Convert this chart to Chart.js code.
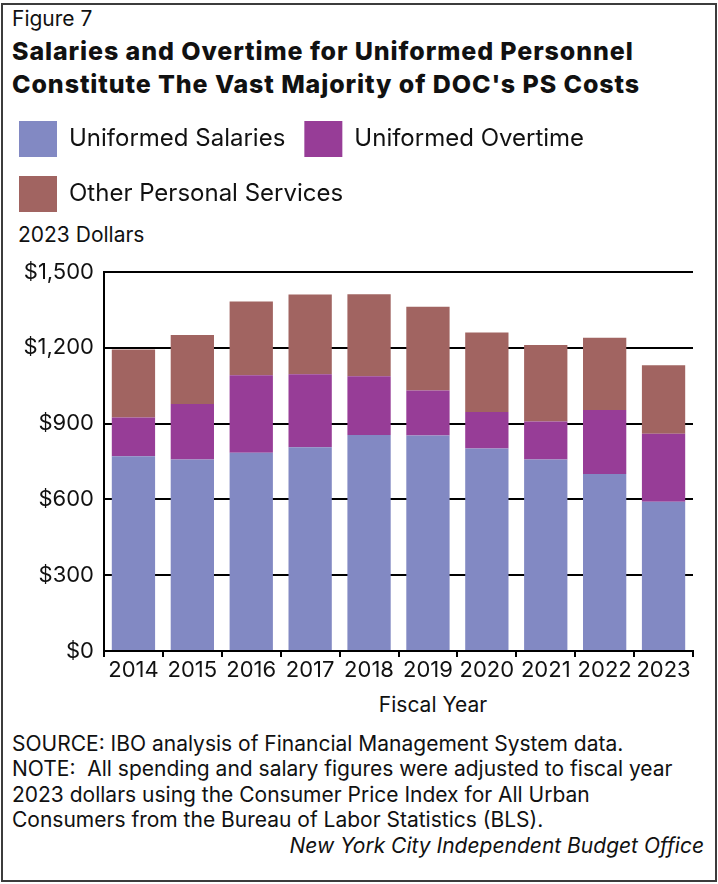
<!DOCTYPE html>
<html>
<head>
<meta charset="utf-8">
<script src="https://cdn.jsdelivr.net/npm/chart.js@4.4.1/dist/chart.umd.min.js"></script>
<style>
  html, body { margin: 0; padding: 0; background: #fff; }
  body { width: 718px; height: 884px; position: relative; overflow: hidden; font-family: Inter, "Noto Sans", sans-serif; color: #111; }
  .frame { position: absolute; left: 1px; top: 3px; width: 712px; height: 875px; border: 2px solid #3c3c3c; }
  .fig { position: absolute; left: 12px; top: 6px; font-size: 21px; line-height: 26px; }
  .title { position: absolute; left: 12px; top: 35px; font-size: 25px; font-weight: 800; line-height: 33px; letter-spacing: 0.9px; }
  .unit { position: absolute; left: 18px; top: 222px; font-size: 21px; line-height: 26px; }
  .xtitle { position: absolute; left: 333px; width: 200px; text-align: center; top: 692px; font-size: 21px; line-height: 26px; }
  .wrap { position: absolute; left: 0; top: 102px; width: 718px; height: 586px; }
  .notes { position: absolute; left: 12px; top: 731px; width: 692px; font-size: 21px; line-height: 25.4px; white-space: pre; }
  .notes .src { text-align: right; font-style: italic; }
</style>
</head>
<body>
<div class="frame"></div>
<div class="fig">Figure 7</div>
<div class="title">Salaries and Overtime for Uniformed Personnel<br>Constitute The Vast Majority of DOC's PS Costs</div>
<div class="unit">2023 Dollars</div>
<div class="wrap"><canvas id="chart"></canvas></div>
<div class="xtitle">Fiscal Year</div>
<div class="notes">SOURCE: IBO analysis of Financial Management System data.
NOTE:  All spending and salary figures were adjusted to fiscal year
2023 dollars using the Consumer Price Index for All Urban
Consumers from the Bureau of Labor Statistics (BLS).
<div class="src">New York City Independent Budget Office</div></div>

<script>
// Fiscal years shown on the x axis
const years = ['2014', '2015', '2016', '2017', '2018', '2019', '2020', '2021', '2022', '2023'];

// Personal services spending, millions of 2023 dollars
const uniformedSalaries = [771, 758, 785, 806, 855, 853, 801, 758, 701, 591];
const uniformedOvertime = [153, 220, 306, 289, 232, 178, 145, 150, 253, 269];
const otherPersonalServices = [269, 273, 292, 316, 325, 331, 315, 303, 286, 271];

// Y axis ticks
const yTicks = [0, 300, 600, 900, 1200, 1500];

const seriesNames = ['Uniformed Salaries', 'Uniformed Overtime', 'Other Personal Services'];
const seriesColors = ['#8289c3', '#973d97', '#a16461'];

const ink = '#111111';
const font = 'Inter, "Noto Sans", sans-serif';

new Chart(document.getElementById('chart'), {
  type: 'bar',
  data: {
    labels: years,
    datasets: [uniformedSalaries, uniformedOvertime, otherPersonalServices].map((values, i) => ({
      label: seriesNames[i],
      data: values,
      backgroundColor: seriesColors[i],
      borderWidth: 0,
      barPercentage: 0.735,
      categoryPercentage: 1.0
    }))
  },
  options: {
    responsive: true,
    maintainAspectRatio: false,
    animation: false,
    layout: { padding: { left: 0, right: 25, top: 0, bottom: 0 } },
    plugins: {
      legend: {
        position: 'top',
        align: 'start',
        labels: {
          boxWidth: 38,
          boxHeight: 36,
          padding: 19,
          color: ink,
          font: { family: font, size: 24 }
        }
      },
      subtitle: {
        // blank band between the legend and the plot
        display: true,
        text: '',
        weight: 500,
        font: { size: 10, lineHeight: 1.2 },
        padding: { top: 0, bottom: 38 }
      },
      tooltip: { enabled: false }
    },
    scales: {
      x: {
        stacked: true,
        grid: {
          offset: true,
          drawOnChartArea: false,
          drawTicks: true,
          tickLength: 6,
          color: '#000',
          lineWidth: 2
        },
        border: { display: true, color: '#000', width: 2 },
        ticks: {
          color: ink,
          font: { family: font, size: 22 },
          padding: 0,
          maxRotation: 0,
          autoSkip: false
        },
        afterFit: (scale) => { scale.height = 37; }
      },
      y: {
        stacked: true,
        min: 0,
        max: 1500,
        afterBuildTicks: (scale) => { scale.ticks = yTicks.map(v => ({ value: v })); },
        grid: {
          color: '#000',
          lineWidth: 2,
          drawTicks: false
        },
        border: { display: true, color: '#000', width: 2 },
        ticks: {
          color: ink,
          font: { family: font, size: 22 },
          padding: 10,
          callback: (v) => '$' + Number(v).toLocaleString('en-US')
        },
        afterFit: (scale) => { scale.width = 104; }
      }
    }
  }
});
</script>
</body>
</html>
